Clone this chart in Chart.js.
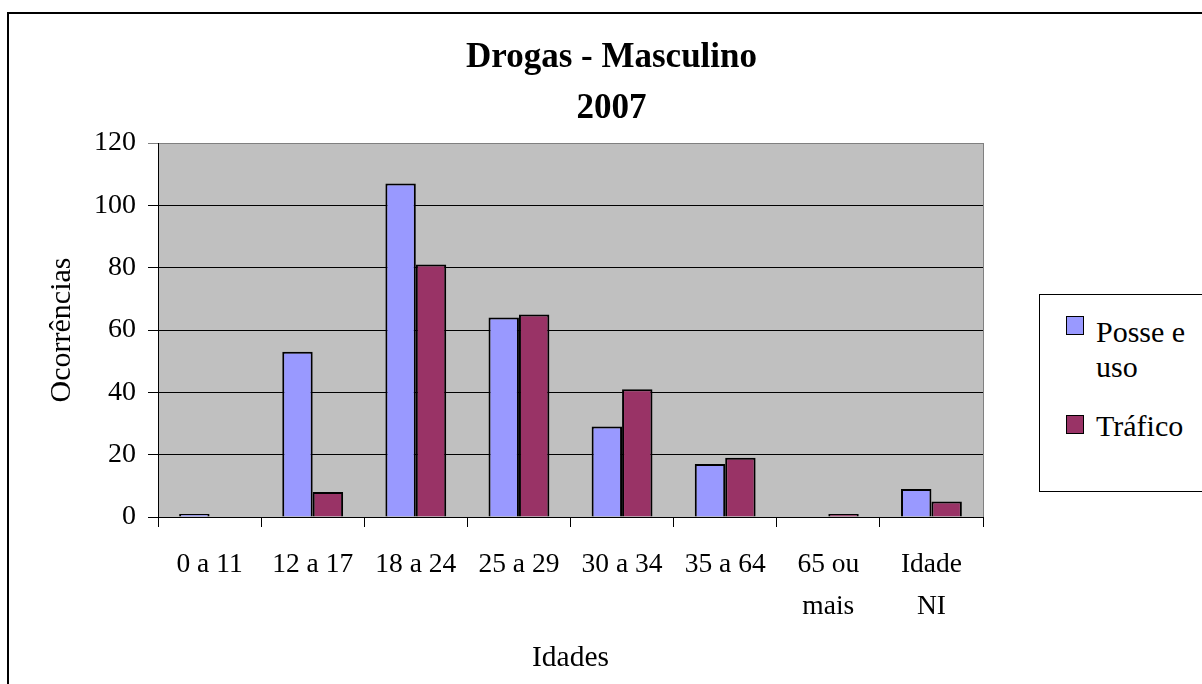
<!DOCTYPE html>
<html lang="pt">
<head>
<meta charset="utf-8">
<title>Drogas - Masculino 2007</title>
<script src="https://cdn.jsdelivr.net/npm/chart.js@4.4.1/dist/chart.umd.min.js"></script>
<style>
  html, body { margin: 0; padding: 0; background: #fff; overflow: hidden; }
  #stage { position: relative; width: 1202px; height: 684px; overflow: hidden; }
  #frame { position: absolute; left: 7px; top: 12px; width: 1400px; height: 900px; border: 2px solid #000; box-sizing: border-box; }
  #chart { position: absolute; left: 0; top: 0; }
  #legend { position: absolute; left: 1039px; top: 294px; width: 400px; height: 198px; border: 1px solid #000; box-sizing: border-box; background: #fff; }
  .item { position: absolute; font-family: 'Liberation Serif', 'Times New Roman', serif; font-size: 30px; line-height: 35px; color: #000; }
  .swatch { position: absolute; width: 18px; height: 19px; border: 1.5px solid #000; box-sizing: border-box; }
</style>
</head>
<body>
<div id="stage">
  <div id="frame"></div>
  <canvas id="chart" width="1202" height="684"></canvas>
  <div id="legend"></div>
</div>
<script>
// Age groups on the x axis (multi-line where the label wraps)
const categories = ['0 a 11', '12 a 17', '18 a 24', '25 a 29', '30 a 34', '35 a 64', ['65 ou', 'mais'], ['Idade', 'NI']];

// Occurrences per age group
const posseUso = [1, 53, 107, 64, 29, 17, 0, 9];
const trafico  = [0, 8, 81, 65, 41, 19, 1, 5];

// Series names and y tick values
const seriesNames = [['Posse e', 'uso'], ['Tráfico']];
const yTicks = [0, 20, 40, 60, 80, 100, 120];

const SERIF = "'Liberation Serif', 'Times New Roman', serif";
const colors = ['#9999FF', '#993366'];

// Grey plot background and grey right edge of the plot area
const plotBackground = {
  id: 'plotBackground',
  beforeDraw(chart) {
    const { ctx, chartArea: a } = chart;
    ctx.save();
    ctx.fillStyle = '#C0C0C0';
    ctx.fillRect(a.left, a.top, a.right - a.left, a.bottom - a.top);
    ctx.restore();
  },
  afterDatasetsDraw(chart) {
    const { ctx, chartArea: a } = chart;
    ctx.save();
    ctx.strokeStyle = '#808080';
    ctx.lineWidth = 1;
    ctx.beginPath();
    ctx.moveTo(Math.round(a.right) + 0.5, a.top);
    ctx.lineTo(Math.round(a.right) + 0.5, a.bottom);
    ctx.stroke();
    ctx.restore();
  }
};

const chart = new Chart(document.getElementById('chart'), {
  type: 'bar',
  data: {
    labels: categories,
    datasets: [
      { label: seriesNames[0].join(' '), data: posseUso, backgroundColor: colors[0], borderColor: '#000', borderWidth: 2 },
      { label: seriesNames[1].join(' '), data: trafico, backgroundColor: colors[1], borderColor: '#000', borderWidth: 2 }
    ]
  },
  options: {
    responsive: false,
    animation: false,
    layout: { padding: { left: 21, right: 0, top: 0, bottom: 0 } },
    datasets: { bar: { categoryPercentage: 0.59, barPercentage: 1.0 } },
    plugins: {
      legend: { display: false },
      tooltip: { enabled: false },
      title: {
        display: true,
        text: ['Drogas - Masculino', '2007'],
        color: '#000',
        font: { family: SERIF, size: 35, weight: 'bold', lineHeight: 1.45 },
        padding: { top: 33, bottom: 8.5 }
      }
    },
    scales: {
      x: {
        grid: { offset: true, drawOnChartArea: false, drawTicks: true, tickLength: 10, color: '#000' },
        border: { color: '#000', width: 1 },
        ticks: { color: '#000', padding: 17, font: { family: SERIF, size: 27.5, lineHeight: 1.52 }, maxRotation: 0, autoSkip: false },
        title: { display: true, text: 'Idades', color: '#000', font: { family: SERIF, size: 29.5, lineHeight: 1.2 }, padding: { top: 0, bottom: 8 } },
        afterFit(s) { s.height = 167; }
      },
      y: {
        min: 0,
        max: 120,
        afterBuildTicks(s) { s.ticks = yTicks.map(v => ({ value: v })); },
        grid: {
          drawTicks: true,
          tickLength: 10,
          color: c => (c.tick && c.tick.value === 120 ? '#808080' : '#000')
        },
        border: { color: '#000', width: 1 },
        ticks: { color: '#000', padding: 12, font: { family: SERIF, size: 28 } },
        title: { display: true, text: 'Ocorrências', color: '#000', font: { family: SERIF, size: 30, lineHeight: 1.2 }, padding: { top: 23, bottom: 0 } },
        afterFit(s) { s.width = 137; }
      },
      // Empty right-hand box that reserves room for the legend
      side: {
        position: 'right',
        display: true,
        ticks: { display: false },
        grid: { display: false },
        border: { display: false },
        afterFit(s) { s.width = 219; }
      }
    }
  },
  plugins: [plotBackground]
});

// Legend built from the chart's datasets
(function buildLegend() {
  const box = document.getElementById('legend');
  const rows = [{ swatchTop: 316, textTop: 314 }, { swatchTop: 415, textTop: 408 }];
  chart.data.datasets.forEach((ds, i) => {
    const sw = document.createElement('div');
    sw.className = 'swatch';
    sw.style.background = ds.backgroundColor;
    sw.style.left = (1066 - 1039 - 1) + 'px';
    sw.style.top = (rows[i].swatchTop - 294 - 1) + 'px';
    box.appendChild(sw);
    const tx = document.createElement('div');
    tx.className = 'item';
    tx.style.left = (1096 - 1039 - 1) + 'px';
    tx.style.top = (rows[i].textTop - 294 - 1) + 'px';
    tx.innerHTML = seriesNames[i].join('<br>');
    box.appendChild(tx);
  });
})();
</script>
</body>
</html>
